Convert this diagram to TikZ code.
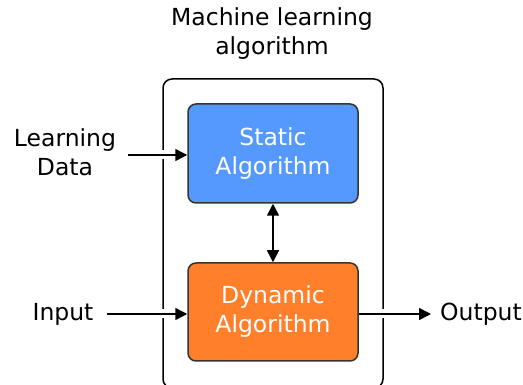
\documentclass[tikz,border=0pt]{standalone}
\usepackage{fontspec}
\setmainfont{DejaVu Sans}
\usetikzlibrary{arrows.meta}
\definecolor{staticblue}{HTML}{5599FF}
\definecolor{dynorange}{HTML}{FF7F2A}
\definecolor{edgegray}{HTML}{333333}
\tikzset{
  algobox/.style={draw=edgegray, line width=1.5pt, rounded corners=8pt, minimum width=170pt,
    minimum height=99pt, align=center, text=white, inner sep=0pt},
  lbl/.style={align=center, text=black, inner sep=0pt},
  flow/.style={-{Triangle[length=12pt,width=12pt]}, line width=1.5pt},
  halo/.style={preaction={draw=white, line width=9pt, -, shorten <=3pt, shorten >=3pt}}
}
\begin{document}
\begin{tikzpicture}[x=1pt, y=-1pt, font=\fontsize{23.5}{29}\selectfont]
\clip (0,0) rectangle (523,385);
\node[lbl] (title) at (272,34) {Machine learning\\algorithm};
% contenitore esterno
\draw[line width=1.5pt, rounded corners=9pt] (163,79) rectangle (383,388);
\node[algobox, fill=staticblue] (static) at (273,153.5) {Static\\Algorithm};
\node[algobox, fill=dynorange, minimum height=98pt] (dynamic) at (273,312) {Dynamic\\Algorithm};
\node[lbl] (ldata) at (65,152) {Learning\\Data};
\node[lbl] (input) at (63,314) {Input};
\node[lbl, anchor=west] (output) at (440,314) {Output};
\coordinate (ldstart) at (128,155);
\coordinate (instart) at (107,314);
\coordinate (outend) at (431,314);
\draw[flow, halo] (ldstart) -- (ldstart -| static.west);
\draw[flow, halo] (instart) -- (instart -| dynamic.west);
\draw[flow, halo] (dynamic.east |- outend) -- (outend);
\draw[{Triangle[length=12pt,width=12pt]}-{Triangle[length=12pt,width=12pt]}, line width=1.5pt]
  (static.south) -- (dynamic.north);
\end{tikzpicture}
\end{document}
